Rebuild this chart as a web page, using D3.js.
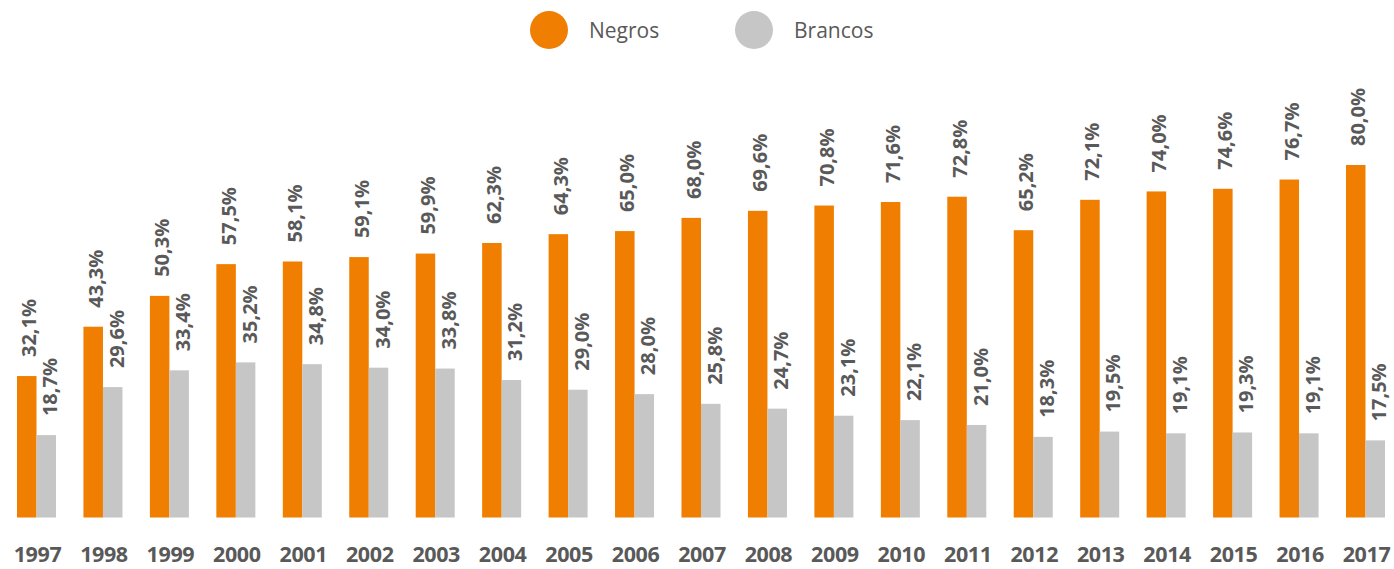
<!DOCTYPE html>
<html>
<head>
<meta charset="utf-8">
<script src="https://cdn.jsdelivr.net/npm/d3@7"></script>
<style>
  html, body { margin: 0; padding: 0; background: #fff; }
  svg { display: block; }
</style>
</head>
<body>
<svg id="chart" width="1394" height="569"></svg>
<script>
// Taxa por ano, em %
const years = ["1997","1998","1999","2000","2001","2002","2003","2004","2005","2006","2007",
               "2008","2009","2010","2011","2012","2013","2014","2015","2016","2017"];
const negros = [32.1, 43.3, 50.3, 57.5, 58.1, 59.1, 59.9, 62.3, 64.3, 65.0, 68.0,
                69.6, 70.8, 71.6, 72.8, 65.2, 72.1, 74.0, 74.6, 76.7, 80.0];
const brancos = [18.7, 29.6, 33.4, 35.2, 34.8, 34.0, 33.8, 31.2, 29.0, 28.0, 25.8,
                 24.7, 23.1, 22.1, 21.0, 18.3, 19.5, 19.1, 19.3, 19.1, 17.5];
const seriesNames = ["Negros", "Brancos"];
const seriesColors = ["#f07e00", "#c6c6c6"];

const svg = d3.select("#chart");
const textColor = "#595959";
const fontFamily = "'Open Sans', 'DejaVu Sans', sans-serif";

const x = d3.scaleBand().domain(years).range([17, 1385]).paddingInner(0.413).paddingOuter(0);
const xSub = d3.scaleBand().domain(seriesNames).range([0, x.bandwidth()]);
const y = d3.scaleLinear().domain([0, 80]).range([517.5, 165]);

const rows = years.map((yr, i) => ({ year: yr, values: [
  { key: "Negros", value: negros[i] },
  { key: "Brancos", value: brancos[i] }
]}));

const color = d3.scaleOrdinal().domain(seriesNames).range(seriesColors);
const fmt = v => v.toFixed(1).replace(".", ",") + "%";

const groups = svg.append("g").selectAll("g")
  .data(rows).join("g")
  .attr("transform", d => `translate(${x(d.year)},0)`);

groups.selectAll("rect")
  .data(d => d.values).join("rect")
  .attr("x", d => xSub(d.key))
  .attr("width", xSub.bandwidth())
  .attr("y", d => y(d.value))
  .attr("height", d => y(0) - y(d.value))
  .attr("fill", d => color(d.key));

// Value labels, rotated, above each bar
const labelShift = { Negros: 2, Brancos: 3.5 };
groups.selectAll("text.val")
  .data(d => d.values).join("text")
  .attr("class", "val")
  .attr("transform", d => `translate(${xSub(d.key) + xSub.bandwidth() / 2 + labelShift[d.key]},${y(d.value) - 19}) rotate(-90)`)
  .attr("dominant-baseline", "central")
  .attr("text-anchor", "start")
  .attr("fill", textColor)
  .attr("font-family", fontFamily)
  .attr("font-weight", 700)
  .attr("font-size", 20)
  .text(d => fmt(d.value));

// Year axis
const xAxis = d3.axisBottom(x).tickSize(0).tickPadding(0);
const axisG = svg.append("g").attr("transform", "translate(1,562)").call(xAxis);
axisG.select(".domain").remove();
axisG.selectAll("text")
  .attr("dy", 0)
  .attr("fill", textColor)
  .attr("font-family", fontFamily)
  .attr("font-weight", 700)
  .attr("font-size", 21.5)
  .attr("letter-spacing", -0.4);

// Legend
const legendX = [549, 754];
const legend = svg.append("g").selectAll("g")
  .data(seriesNames).join("g")
  .attr("transform", (d, i) => `translate(${legendX[i]},30)`);
legend.append("circle").attr("r", 19).attr("fill", d => color(d));
legend.append("text")
  .attr("x", 40)
  .attr("dominant-baseline", "central")
  .attr("fill", textColor)
  .attr("font-family", fontFamily)
  .attr("font-size", 21)
  .text(d => d);
</script>
</body>
</html>
